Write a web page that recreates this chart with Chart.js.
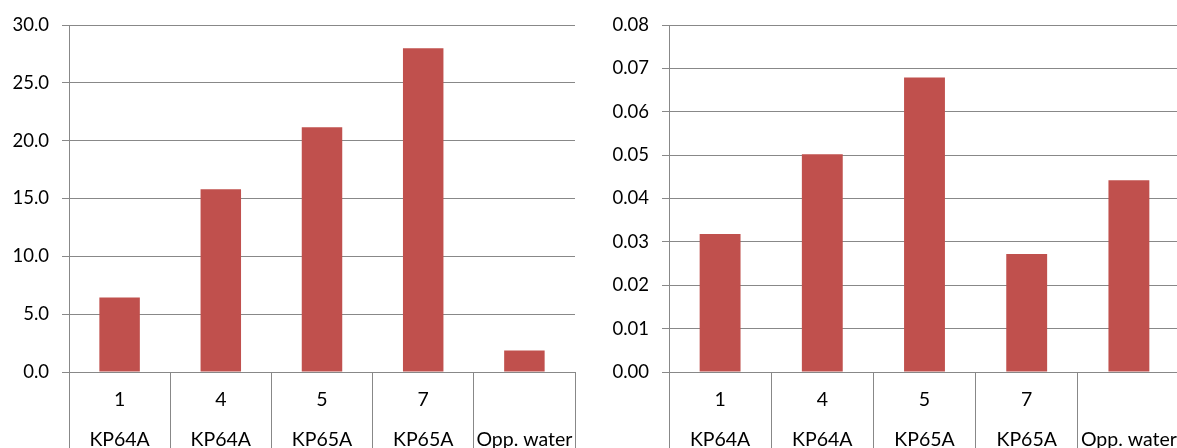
<!DOCTYPE html>
<html>
<head>
<meta charset="utf-8">
<script src="https://cdn.jsdelivr.net/npm/chart.js@4.4.1/dist/chart.umd.min.js"></script>
<style>
  html, body { margin: 0; padding: 0; background: #fff; overflow: hidden; }
  #wrap { position: relative; width: 1177px; height: 448px; overflow: hidden; }
  #leftChart { position: absolute; left: 0; top: 0; }
  #rightChart { position: absolute; left: 580px; top: 0; }
</style>
</head>
<body>
<div id="wrap">
  <canvas id="leftChart" width="580" height="448"></canvas>
  <canvas id="rightChart" width="600" height="448"></canvas>
</div>
<script>
// sample number and station, two label rows under each bar
const sampleNos = ['1', '4', '5', '7', ''];
const stations = ['KP64A', 'KP64A', 'KP65A', 'KP65A', 'Opp. water'];

const leftValues = [6.45, 15.8, 21.15, 28.0, 1.85];
const rightValues = [0.0318, 0.0502, 0.0679, 0.0272, 0.0442];

const leftAxis = { max: 30, step: 5, digits: 1 };
const rightAxis = { max: 0.08, step: 0.01, digits: 2 };

const barColor = '#C0504D';
const lineColor = '#888888';
const fontFamily = 'Lato, "Open Sans", sans-serif';

const labels = sampleNos.map((n, i) => [n, stations[i]]);

function buildConfig(values, axis, axisWidth, rightPad) {
  return {
    type: 'bar',
    data: {
      labels: labels,
      datasets: [{
        data: values,
        backgroundColor: barColor,
        borderWidth: 0,
        barPercentage: 0.4,
        categoryPercentage: 1.0
      }]
    },
    options: {
      responsive: false,
      animation: false,
      devicePixelRatio: 1,
      layout: { padding: { top: 25, right: rightPad, left: 0, bottom: 0 } },
      plugins: {
        legend: { display: false },
        tooltip: { enabled: false }
      },
      scales: {
        x: {
          offset: true,
          grid: {
            offset: true,
            drawOnChartArea: false,
            drawTicks: true,
            tickLength: 76,
            color: lineColor,
            lineWidth: 1
          },
          border: { display: true, color: lineColor, width: 1 },
          ticks: {
            autoSkip: false,
            maxRotation: 0,
            minRotation: 0,
            padding: -68,
            color: '#000',
            font: { family: fontFamily, size: 19.5, lineHeight: 2.05 }
          },
          afterFit: (scale) => { scale.height = 76; }
        },
        y: {
          min: 0,
          max: axis.max,
          grid: {
            color: lineColor,
            lineWidth: 1,
            drawTicks: true,
            tickLength: 7
          },
          border: { display: true, color: lineColor, width: 1 },
          ticks: {
            stepSize: axis.step,
            padding: 13,
            color: '#000',
            font: { family: fontFamily, size: 18.5 },
            callback: (v) => Number(v).toFixed(axis.digits)
          },
          afterFit: (scale) => { scale.width = axisWidth; }
        }
      }
    }
  };
}

new Chart(document.getElementById('leftChart'), buildConfig(leftValues, leftAxis, 69, 5));
new Chart(document.getElementById('rightChart'), buildConfig(rightValues, rightAxis, 89, 0));
</script>
</body>
</html>
